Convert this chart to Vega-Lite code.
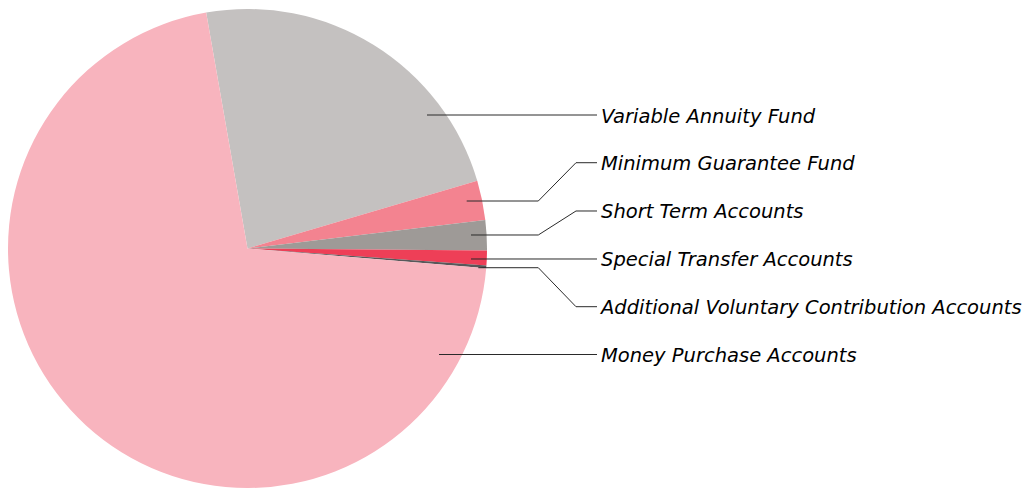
{
  "$schema": "https://vega.github.io/schema/vega-lite/v6.json",
  "width": 1023,
  "height": 489,
  "autosize": {"type": "fit", "contains": "padding"},
  "padding": 0,
  "background": "white",
  "config": {"view": {"stroke": null}},
  "datasets": {
    "slices": [
      {"label": "Variable Annuity Fund", "value": 23.20, "order": 1},
      {"label": "Minimum Guarantee Fund", "value": 2.66, "order": 2},
      {"label": "Short Term Accounts", "value": 2.04, "order": 3},
      {"label": "Special Transfer Accounts", "value": 0.99, "order": 4},
      {"label": "Additional Voluntary Contribution Accounts", "value": 0.18, "order": 5},
      {"label": "Money Purchase Accounts", "value": 70.93, "order": 6}
    ],
    "leaders": [
      {"label": "Variable Annuity Fund", "seq": 1, "x": 0.7495, "y": 0.5574},
      {"label": "Variable Annuity Fund", "seq": 2, "x": 1.4593, "y": 0.5574},
      {"label": "Minimum Guarantee Fund", "seq": 1, "x": 0.9152, "y": 0.1983},
      {"label": "Minimum Guarantee Fund", "seq": 2, "x": 1.2142, "y": 0.1983},
      {"label": "Minimum Guarantee Fund", "seq": 3, "x": 1.3716, "y": 0.3582},
      {"label": "Minimum Guarantee Fund", "seq": 4, "x": 1.4593, "y": 0.3582},
      {"label": "Short Term Accounts", "seq": 1, "x": 0.9332, "y": 0.0564},
      {"label": "Short Term Accounts", "seq": 2, "x": 1.2142, "y": 0.0564},
      {"label": "Short Term Accounts", "seq": 3, "x": 1.3716, "y": 0.1566},
      {"label": "Short Term Accounts", "seq": 4, "x": 1.4593, "y": 0.1566},
      {"label": "Special Transfer Accounts", "seq": 1, "x": 0.9332, "y": -0.0438},
      {"label": "Special Transfer Accounts", "seq": 2, "x": 1.4593, "y": -0.0438},
      {"label": "Additional Voluntary Contribution Accounts", "seq": 1, "x": 0.9637, "y": -0.0802},
      {"label": "Additional Voluntary Contribution Accounts", "seq": 2, "x": 1.2142, "y": -0.0802},
      {"label": "Additional Voluntary Contribution Accounts", "seq": 3, "x": 1.3716, "y": -0.2430},
      {"label": "Additional Voluntary Contribution Accounts", "seq": 4, "x": 1.4593, "y": -0.2430},
      {"label": "Money Purchase Accounts", "seq": 1, "x": 0.7996, "y": -0.4426},
      {"label": "Money Purchase Accounts", "seq": 2, "x": 1.4593, "y": -0.4426}
    ],
    "labels": [
      {"label": "Variable Annuity Fund", "x": 1.4760, "y": 0.5574},
      {"label": "Minimum Guarantee Fund", "x": 1.4760, "y": 0.3582},
      {"label": "Short Term Accounts", "x": 1.4760, "y": 0.1566},
      {"label": "Special Transfer Accounts", "x": 1.4760, "y": -0.0438},
      {"label": "Additional Voluntary Contribution Accounts", "x": 1.4760, "y": -0.2430},
      {"label": "Money Purchase Accounts", "x": 1.4760, "y": -0.4426}
    ]
  },
  "layer": [
    {
      "data": {"name": "slices"},
      "mark": {"type": "arc", "radius": 239.5},
      "encoding": {
        "x": {"datum": 0, "type": "quantitative", "scale": {"domain": [-1.0334, 3.2380], "nice": false, "zero": false}, "axis": null},
        "y": {"datum": 0, "type": "quantitative", "scale": {"domain": [-1.0042, 1.0376], "nice": false, "zero": false}, "axis": null},
        "theta": {"field": "value", "type": "quantitative", "stack": true, "scale": {"range": [-0.1735, 6.1097]}},
        "color": {
          "field": "label",
          "type": "nominal",
          "scale": {
            "domain": ["Variable Annuity Fund", "Minimum Guarantee Fund", "Short Term Accounts", "Special Transfer Accounts", "Additional Voluntary Contribution Accounts", "Money Purchase Accounts"],
            "range": ["#c4c1c0", "#f38390", "#9e9a97", "#ee3f57", "#58585a", "#f8b4be"]
          },
          "legend": null
        },
        "order": {"field": "order", "type": "quantitative"}
      }
    },
    {
      "data": {"name": "leaders"},
      "mark": {"type": "line", "color": "#2a2a2a", "strokeWidth": 1},
      "encoding": {
        "x": {"field": "x", "type": "quantitative", "axis": null},
        "y": {"field": "y", "type": "quantitative", "axis": null},
        "detail": {"field": "label"},
        "order": {"field": "seq", "type": "quantitative"}
      }
    },
    {
      "data": {"name": "labels"},
      "mark": {"type": "text", "align": "left", "baseline": "middle", "dy": 1.5, "font": "DejaVu Sans", "fontStyle": "italic", "fontSize": 19.5, "color": "#000000"},
      "encoding": {
        "x": {"field": "x", "type": "quantitative", "axis": null},
        "y": {"field": "y", "type": "quantitative", "axis": null},
        "text": {"field": "label"}
      }
    }
  ]
}
